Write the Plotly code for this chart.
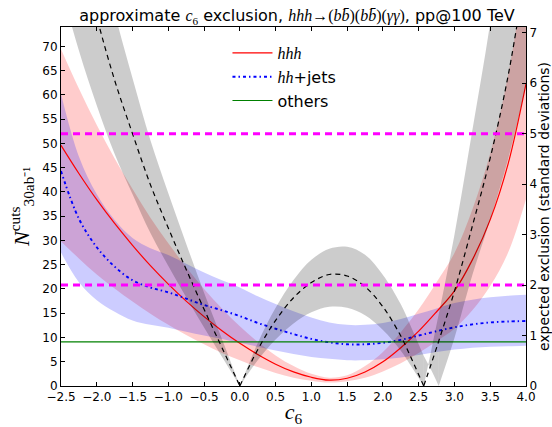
import plotly.graph_objects as go

# ---------------- data ----------------
c6 = [-2.5, -2.25, -2.0, -1.75, -1.5, -1.25, -1.0, -0.75, -0.5, -0.25, 0.0,
      0.25, 0.5, 0.75, 1.0, 1.25, 1.5, 1.75, 2.0, 2.25, 2.5, 2.75, 3.0,
      3.25, 3.5, 3.75, 4.0]

hhh = [49.6, 43.8, 38.4, 33.5, 29.0, 24.8, 21.0, 17.5, 14.3, 11.4, 8.8,
       6.5, 4.5, 2.9, 1.8, 1.2, 1.6, 2.9, 5.0, 7.9, 11.3, 15.3, 19.6,
       26.0, 34.3, 45.8, 62.3]
hhh_hi = [69.4, 61.3, 53.8, 46.9, 40.6, 34.7, 29.4, 24.5, 20.0, 16.0, 12.3,
          9.1, 6.3, 4.1, 2.5, 1.7, 2.2, 4.1, 7.0, 11.1, 15.8, 21.4, 27.4,
          36.4, 48.0, 64.1, 87.2]
hhh_lo = [29.8, 26.3, 23.0, 20.1, 17.4, 14.9, 12.6, 10.5, 8.6, 6.8, 5.3,
          3.9, 2.7, 1.7, 1.1, 0.7, 1.0, 1.7, 3.0, 4.7, 6.8, 9.2, 11.8,
          15.6, 20.6, 27.5, 38.5]

hhjets = [44.3, 34.5, 28.6, 24.6, 21.8, 20.3, 19.3, 18.0, 16.7, 15.6, 14.4,
          13.0, 11.8, 10.7, 9.7, 9.0, 8.6, 8.6, 8.9, 9.5, 10.4, 11.3, 12.1,
          12.7, 13.1, 13.3, 13.4]
hhjets_hi = [60.2, 47.3, 39.5, 34.2, 30.5, 28.4, 27.0, 25.2, 23.4, 21.8, 20.3,
             18.5, 16.9, 15.4, 14.1, 13.1, 12.6, 12.6, 13.0, 13.8, 14.9, 16.0, 17.1,
             17.8, 18.3, 18.6, 18.8]
hhjets_lo = [27.5, 21.4, 17.7, 15.3, 13.5, 12.6, 12.0, 11.2, 10.4, 9.7, 8.9,
             8.1, 7.3, 6.6, 6.0, 5.6, 5.3, 5.3, 5.5, 5.9, 6.4, 7.0, 7.5,
             7.9, 8.1, 8.2, 8.3]

others_x = [-2.5, 4.0]
others = [9.1, 9.1]

# expected exclusion in standard deviations (right axis)
c6_sig = [-2.5, -2.25, -2.0, -1.75, -1.5, -1.25, -1.0, -0.75, -0.5, -0.25, 0.0,
          0.25, 0.5, 0.75, 1.0, 1.25, 1.5, 1.75, 2.0, 2.25, 2.4, 2.57, 2.68, 2.78,
          3.0, 3.25, 3.5, 3.75, 4.0]
sig = [10.38, 8.75, 7.31, 6.06, 5.0, 3.99, 3.13, 2.31, 1.52, 0.76, 0.0,
       0.72, 1.30, 1.75, 2.05, 2.21, 2.18, 1.97, 1.57, 0.99, 0.54, 0.0, 0.46, 0.89,
       1.88, 3.17, 4.52, 6.15, 8.27]
sig_a = [7.9, 6.65, 5.56, 4.6, 3.8, 3.03, 2.38, 1.76, 1.16, 0.58, 0.0,
         0.51, 0.92, 1.24, 1.46, 1.57, 1.55, 1.40, 1.11, 0.70, 0.38, 0.0, 0.74, 1.42,
         3.0, 5.07, 7.2, 9.8, 13.0]
sig_b = [12.7, 10.7, 8.9, 7.4, 6.1, 4.87, 3.82, 2.82, 1.85, 0.93, 0.0,
         0.85, 1.55, 2.1, 2.5, 2.72, 2.76, 2.6, 2.2, 1.62, 1.15, 0.6, 0.3, 0.0,
         0.95, 2.2, 3.3, 4.5, 5.95]

thresholds = [2, 5]

x_ticks = [-2.5, -2.0, -1.5, -1.0, -0.5, 0.0, 0.5, 1.0, 1.5, 2.0, 2.5, 3.0, 3.5, 4.0]
y_ticks = [0, 5, 10, 15, 20, 25, 30, 35, 40, 45, 50, 55, 60, 65, 70]
y2_ticks = [0, 1, 2, 3, 4, 5, 6, 7]

Y_MAX = 74.0
SIG_PER_N = 10.4

# ---------------- figure ----------------
fig = go.Figure()

def band(x, lo, hi, color, yaxis='y'):
    fig.add_trace(go.Scatter(x=x, y=lo, mode='lines', yaxis=yaxis,
                             line=dict(width=0, shape='spline'),
                             showlegend=False, hoverinfo='skip'))
    fig.add_trace(go.Scatter(x=x, y=hi, mode='lines', yaxis=yaxis,
                             line=dict(width=0, shape='spline'),
                             fill='tonexty', fillcolor=color,
                             showlegend=False, hoverinfo='skip'))

band(c6, hhh_lo, hhh_hi, 'rgba(255,0,0,0.2)')
band(c6, hhjets_lo, hhjets_hi, 'rgba(0,0,255,0.2)')

serif = "'Liberation Serif', serif"

fig.add_trace(go.Scatter(x=c6, y=hhh, mode='lines',
                         line=dict(color='#ff0000', width=1.2, shape='spline'),
                         name="<span style=\"font-family:%s\"><i>hhh</i></span>" % serif))
fig.add_trace(go.Scatter(x=c6, y=hhjets, mode='lines',
                         line=dict(color='#0000ff', width=1.9, shape='spline',
                                   dash='3px,3px,1.5px,3px'),
                         name="<span style=\"font-family:%s\"><i>hh</i></span>+jets" % serif))
fig.add_trace(go.Scatter(x=others_x, y=others, mode='lines',
                         line=dict(color='#008000', width=1.2),
                         name='others'))

# gray band of the exclusion, split at the zero crossings so corners stay sharp
gray_segments = [(0, 10), (10, 21), (21, 23), (23, 28)]
for a, b in gray_segments:
    band(c6_sig[a:b + 1], sig_a[a:b + 1], sig_b[a:b + 1], 'rgba(0,0,0,0.2)', yaxis='y2')

dash_segments = [(0, 10), (10, 21), (21, 28)]
for a, b in dash_segments:
    fig.add_trace(go.Scatter(x=c6_sig[a:b + 1], y=sig[a:b + 1], mode='lines', yaxis='y2',
                             line=dict(color='black', width=1.2, dash='5px,4px', shape='spline'),
                             showlegend=False, hoverinfo='skip'))

for t in thresholds:
    fig.add_trace(go.Scatter(x=[c6[0], c6[-1]], y=[t, t], mode='lines', yaxis='y2',
                             line=dict(color='#ff00ff', width=3, dash='7px,5px'),
                             showlegend=False, hoverinfo='skip'))

axis_common = dict(showline=True, linecolor='black', linewidth=1, ticks='inside',
                   ticklen=4, tickcolor='black', showgrid=False, zeroline=False,
                   tickfont=dict(family='DejaVu Sans', size=12, color='black'))

fig.update_layout(
    width=552, height=427,
    margin=dict(l=61, r=26, t=27, b=41, autoexpand=False),
    paper_bgcolor='white', plot_bgcolor='white',
    font=dict(family='DejaVu Sans', size=12, color='black'),
    title=dict(
        text=("approximate <span style=\"font-family:%s\"><i>c</i><sub>6</sub></span> exclusion, "
              "<span style=\"font-family:%s\"><i>hhh</i>→(<i>b</i><i>b̄</i>)(<i>b</i><i>b̄</i>)(<i>γγ</i>)</span>"
              ", pp@100 TeV") % (serif, serif),
        x=0.538, xanchor='center', y=0.963, yanchor='middle',
        font=dict(family='DejaVu Sans', size=16, color='black')),
    legend=dict(x=0.358, y=0.975, xanchor='left', yanchor='top', traceorder='normal',
                bgcolor='rgba(0,0,0,0)', font=dict(family='DejaVu Sans', size=16),
                itemwidth=40, tracegroupgap=0),
    xaxis=dict(range=[c6[0], c6[-1]], tickvals=x_ticks, tickformat='.1f', mirror='ticks',
               title=dict(text="<span style=\"font-family:%s\"><i>c</i><sub>6</sub></span>" % serif,
                          font=dict(size=22), standoff=4),
               **axis_common),
    yaxis=dict(range=[0, Y_MAX], tickvals=y_ticks,
               title=dict(text=("<span style=\"font-family:%s\"><i>N</i><sup>cuts</sup>"
                                "<sub>30ab⁻¹</sub></span>") % serif,
                          font=dict(size=22), standoff=6),
               **axis_common),
    yaxis2=dict(range=[0, Y_MAX / SIG_PER_N], tickvals=y2_ticks, overlaying='y', side='right',
                title=dict(text='expected exclusion (standard deviations)',
                           font=dict(family='DejaVu Sans', size=14), standoff=5),
                **axis_common),
)

fig.write_html("out.html")
